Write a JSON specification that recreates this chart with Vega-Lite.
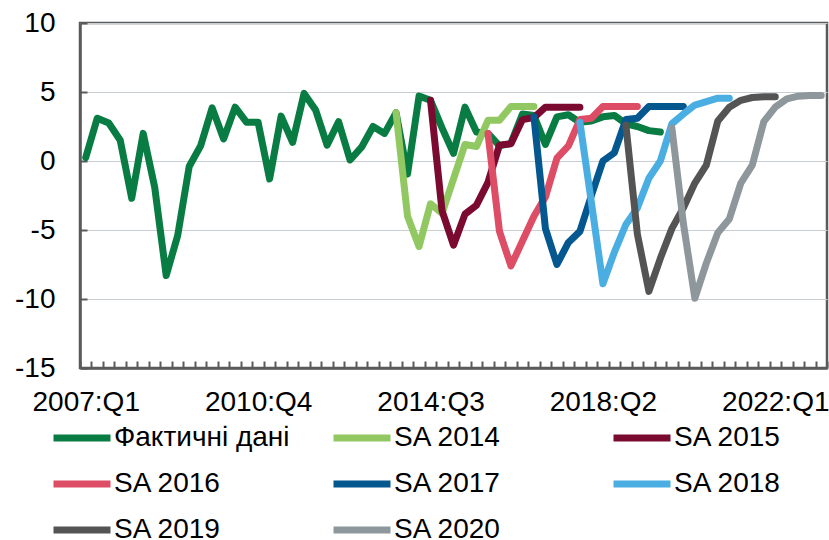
{
  "$schema": "https://vega.github.io/schema/vega-lite/v6.json",
  "autosize": "none",
  "width": 747,
  "height": 345,
  "padding": {"left": 80, "top": 23, "right": 2, "bottom": 172},
  "background": "white",
  "config": {
    "font": "Liberation Sans",
    "view": {"stroke": "#5a5a5a", "strokeWidth": 2.5},
    "axis": {"labelFont": "Liberation Sans", "labelFontSize": 28, "labelColor": "#000000", "domainColor": "#5a5a5a", "domainWidth": 2.5, "tickColor": "#5a5a5a", "tickWidth": 2}
  },
  "data": {"values": [
    {"s":"Фактичні дані","q":"2007:Q1","v":0.25},
    {"s":"Фактичні дані","q":"2007:Q2","v":3.1},
    {"s":"Фактичні дані","q":"2007:Q3","v":2.75},
    {"s":"Фактичні дані","q":"2007:Q4","v":1.5},
    {"s":"Фактичні дані","q":"2008:Q1","v":-2.7},
    {"s":"Фактичні дані","q":"2008:Q2","v":2.0},
    {"s":"Фактичні дані","q":"2008:Q3","v":-1.9},
    {"s":"Фактичні дані","q":"2008:Q4","v":-8.3},
    {"s":"Фактичні дані","q":"2009:Q1","v":-5.4},
    {"s":"Фактичні дані","q":"2009:Q2","v":-0.4},
    {"s":"Фактичні дані","q":"2009:Q3","v":1.1},
    {"s":"Фактичні дані","q":"2009:Q4","v":3.85},
    {"s":"Фактичні дані","q":"2010:Q1","v":1.6},
    {"s":"Фактичні дані","q":"2010:Q2","v":3.9},
    {"s":"Фактичні дані","q":"2010:Q3","v":2.8},
    {"s":"Фактичні дані","q":"2010:Q4","v":2.8},
    {"s":"Фактичні дані","q":"2011:Q1","v":-1.3},
    {"s":"Фактичні дані","q":"2011:Q2","v":3.25},
    {"s":"Фактичні дані","q":"2011:Q3","v":1.35},
    {"s":"Фактичні дані","q":"2011:Q4","v":4.9},
    {"s":"Фактичні дані","q":"2012:Q1","v":3.7},
    {"s":"Фактичні дані","q":"2012:Q2","v":1.15},
    {"s":"Фактичні дані","q":"2012:Q3","v":2.85},
    {"s":"Фактичні дані","q":"2012:Q4","v":0.07},
    {"s":"Фактичні дані","q":"2013:Q1","v":1.0},
    {"s":"Фактичні дані","q":"2013:Q2","v":2.5},
    {"s":"Фактичні дані","q":"2013:Q3","v":2.0},
    {"s":"Фактичні дані","q":"2013:Q4","v":3.5},
    {"s":"Фактичні дані","q":"2014:Q1","v":-0.95},
    {"s":"Фактичні дані","q":"2014:Q2","v":4.7},
    {"s":"Фактичні дані","q":"2014:Q3","v":4.4},
    {"s":"Фактичні дані","q":"2014:Q4","v":2.4},
    {"s":"Фактичні дані","q":"2015:Q1","v":0.55},
    {"s":"Фактичні дані","q":"2015:Q2","v":3.9},
    {"s":"Фактичні дані","q":"2015:Q3","v":2.1},
    {"s":"Фактичні дані","q":"2015:Q4","v":2.0},
    {"s":"Фактичні дані","q":"2016:Q1","v":1.1},
    {"s":"Фактичні дані","q":"2016:Q2","v":1.3},
    {"s":"Фактичні дані","q":"2016:Q3","v":3.4},
    {"s":"Фактичні дані","q":"2016:Q4","v":3.3},
    {"s":"Фактичні дані","q":"2017:Q1","v":1.2},
    {"s":"Фактичні дані","q":"2017:Q2","v":3.2},
    {"s":"Фактичні дані","q":"2017:Q3","v":3.35},
    {"s":"Фактичні дані","q":"2017:Q4","v":2.8},
    {"s":"Фактичні дані","q":"2018:Q1","v":2.9},
    {"s":"Фактичні дані","q":"2018:Q2","v":3.2},
    {"s":"Фактичні дані","q":"2018:Q3","v":3.3},
    {"s":"Фактичні дані","q":"2018:Q4","v":2.7},
    {"s":"Фактичні дані","q":"2019:Q1","v":2.5},
    {"s":"Фактичні дані","q":"2019:Q2","v":2.2},
    {"s":"Фактичні дані","q":"2019:Q3","v":2.1},

    {"s":"SA 2014","q":"2013:Q4","v":3.5},
    {"s":"SA 2014","q":"2014:Q1","v":-4.0},
    {"s":"SA 2014","q":"2014:Q2","v":-6.2},
    {"s":"SA 2014","q":"2014:Q3","v":-3.1},
    {"s":"SA 2014","q":"2014:Q4","v":-3.8},
    {"s":"SA 2014","q":"2015:Q1","v":-1.3},
    {"s":"SA 2014","q":"2015:Q2","v":1.2},
    {"s":"SA 2014","q":"2015:Q3","v":1.05},
    {"s":"SA 2014","q":"2015:Q4","v":2.95},
    {"s":"SA 2014","q":"2016:Q1","v":2.95},
    {"s":"SA 2014","q":"2016:Q2","v":3.95},
    {"s":"SA 2014","q":"2016:Q3","v":3.95},
    {"s":"SA 2014","q":"2016:Q4","v":3.95},

    {"s":"SA 2015","q":"2014:Q3","v":4.4},
    {"s":"SA 2015","q":"2014:Q4","v":-3.6},
    {"s":"SA 2015","q":"2015:Q1","v":-6.1},
    {"s":"SA 2015","q":"2015:Q2","v":-3.85},
    {"s":"SA 2015","q":"2015:Q3","v":-3.2},
    {"s":"SA 2015","q":"2015:Q4","v":-1.55},
    {"s":"SA 2015","q":"2016:Q1","v":1.15},
    {"s":"SA 2015","q":"2016:Q2","v":1.25},
    {"s":"SA 2015","q":"2016:Q3","v":3.0},
    {"s":"SA 2015","q":"2016:Q4","v":3.15},
    {"s":"SA 2015","q":"2017:Q1","v":3.9},
    {"s":"SA 2015","q":"2017:Q2","v":3.9},
    {"s":"SA 2015","q":"2017:Q3","v":3.9},
    {"s":"SA 2015","q":"2017:Q4","v":3.9},

    {"s":"SA 2016","q":"2015:Q4","v":2.0},
    {"s":"SA 2016","q":"2016:Q1","v":-5.1},
    {"s":"SA 2016","q":"2016:Q2","v":-7.6},
    {"s":"SA 2016","q":"2016:Q3","v":-5.8},
    {"s":"SA 2016","q":"2016:Q4","v":-4.0},
    {"s":"SA 2016","q":"2017:Q1","v":-2.6},
    {"s":"SA 2016","q":"2017:Q2","v":0.2},
    {"s":"SA 2016","q":"2017:Q3","v":1.1},
    {"s":"SA 2016","q":"2017:Q4","v":3.0},
    {"s":"SA 2016","q":"2018:Q1","v":3.1},
    {"s":"SA 2016","q":"2018:Q2","v":3.95},
    {"s":"SA 2016","q":"2018:Q3","v":3.95},
    {"s":"SA 2016","q":"2018:Q4","v":3.95},
    {"s":"SA 2016","q":"2019:Q1","v":3.95},

    {"s":"SA 2017","q":"2016:Q4","v":3.2},
    {"s":"SA 2017","q":"2017:Q1","v":-4.9},
    {"s":"SA 2017","q":"2017:Q2","v":-7.5},
    {"s":"SA 2017","q":"2017:Q3","v":-5.9},
    {"s":"SA 2017","q":"2017:Q4","v":-5.1},
    {"s":"SA 2017","q":"2018:Q1","v":-2.5},
    {"s":"SA 2017","q":"2018:Q2","v":0.0},
    {"s":"SA 2017","q":"2018:Q3","v":0.6},
    {"s":"SA 2017","q":"2018:Q4","v":3.0},
    {"s":"SA 2017","q":"2019:Q1","v":3.1},
    {"s":"SA 2017","q":"2019:Q2","v":3.95},
    {"s":"SA 2017","q":"2019:Q3","v":3.95},
    {"s":"SA 2017","q":"2019:Q4","v":3.95},
    {"s":"SA 2017","q":"2020:Q1","v":3.95},

    {"s":"SA 2018","q":"2017:Q4","v":2.8},
    {"s":"SA 2018","q":"2018:Q1","v":-3.0},
    {"s":"SA 2018","q":"2018:Q2","v":-8.9},
    {"s":"SA 2018","q":"2018:Q3","v":-6.6},
    {"s":"SA 2018","q":"2018:Q4","v":-4.6},
    {"s":"SA 2018","q":"2019:Q1","v":-3.4},
    {"s":"SA 2018","q":"2019:Q2","v":-1.25},
    {"s":"SA 2018","q":"2019:Q3","v":0.0},
    {"s":"SA 2018","q":"2019:Q4","v":2.7},
    {"s":"SA 2018","q":"2020:Q1","v":3.4},
    {"s":"SA 2018","q":"2020:Q2","v":4.05},
    {"s":"SA 2018","q":"2020:Q3","v":4.3},
    {"s":"SA 2018","q":"2020:Q4","v":4.55},
    {"s":"SA 2018","q":"2021:Q1","v":4.55},

    {"s":"SA 2019","q":"2018:Q4","v":2.6},
    {"s":"SA 2019","q":"2019:Q1","v":-5.3},
    {"s":"SA 2019","q":"2019:Q2","v":-9.45},
    {"s":"SA 2019","q":"2019:Q3","v":-7.05},
    {"s":"SA 2019","q":"2019:Q4","v":-4.9},
    {"s":"SA 2019","q":"2020:Q1","v":-3.4},
    {"s":"SA 2019","q":"2020:Q2","v":-1.6},
    {"s":"SA 2019","q":"2020:Q3","v":-0.3},
    {"s":"SA 2019","q":"2020:Q4","v":2.9},
    {"s":"SA 2019","q":"2021:Q1","v":3.9},
    {"s":"SA 2019","q":"2021:Q2","v":4.4},
    {"s":"SA 2019","q":"2021:Q3","v":4.6},
    {"s":"SA 2019","q":"2021:Q4","v":4.65},
    {"s":"SA 2019","q":"2022:Q1","v":4.65},

    {"s":"SA 2020","q":"2019:Q4","v":2.4},
    {"s":"SA 2020","q":"2020:Q1","v":-4.5},
    {"s":"SA 2020","q":"2020:Q2","v":-9.95},
    {"s":"SA 2020","q":"2020:Q3","v":-7.4},
    {"s":"SA 2020","q":"2020:Q4","v":-5.2},
    {"s":"SA 2020","q":"2021:Q1","v":-4.2},
    {"s":"SA 2020","q":"2021:Q2","v":-1.6},
    {"s":"SA 2020","q":"2021:Q3","v":-0.3},
    {"s":"SA 2020","q":"2021:Q4","v":2.85},
    {"s":"SA 2020","q":"2022:Q1","v":3.9},
    {"s":"SA 2020","q":"2022:Q2","v":4.5},
    {"s":"SA 2020","q":"2022:Q3","v":4.7},
    {"s":"SA 2020","q":"2022:Q4","v":4.75},
    {"s":"SA 2020","q":"2023:Q1","v":4.75}
  ]},
  "mark": {"type": "line", "strokeWidth": 7, "strokeCap": "round", "strokeJoin": "round"},
  "encoding": {
    "x": {
      "field": "q", "type": "ordinal", "bandPosition": 0.5,
      "scale": {"type": "band", "paddingInner": 0, "paddingOuter": 0},
      "axis": {
        "title": null, "labelAngle": 0, "tickBand": "extent", "tickSize": -7, "labelPadding": 27,
        "labelOverlap": false, "labelBound": false, "labelFlush": false,
        "labelExpr": "indexof(['2007:Q1','2010:Q4','2014:Q3','2018:Q2','2022:Q1'], datum.value) >= 0 ? datum.value : ''",
        "grid": false
      }
    },
    "y": {
      "field": "v", "type": "quantitative",
      "scale": {"domain": [-15, 10], "nice": false, "zero": false},
      "axis": {
        "title": null, "values": [-15, -10, -5, 0, 5, 10], "tickSize": -7, "labelPadding": 32,
        "labelExpr": "datum.value < 0 ? '-' + abs(datum.value) : '' + datum.value",
        "grid": true, "gridColor": "#c8ced1", "gridWidth": 1.2
      }
    },
    "color": {
      "field": "s", "type": "nominal",
      "scale": {
        "domain": ["Фактичні дані", "SA 2014", "SA 2015", "SA 2016", "SA 2017", "SA 2018", "SA 2019", "SA 2020"],
        "range": ["#087c43", "#92c861", "#7b0a31", "#de4d66", "#04578f", "#4aaee3", "#545454", "#8e979c"]
      },
      "legend": {
        "title": null, "orient": "none", "legendX": -30, "legendY": 383, "direction": "horizontal",
        "columns": 3, "gridAlign": "all", "columnPadding": 29, "rowPadding": -4, "padding": 0,
        "symbolType": "stroke", "symbolSize": 3249, "symbolStrokeWidth": 7,
        "labelFont": "Liberation Sans", "labelFontSize": 28, "labelColor": "#000000", "labelLimit": 400, "labelOffset": 0
      }
    }
  }
}
